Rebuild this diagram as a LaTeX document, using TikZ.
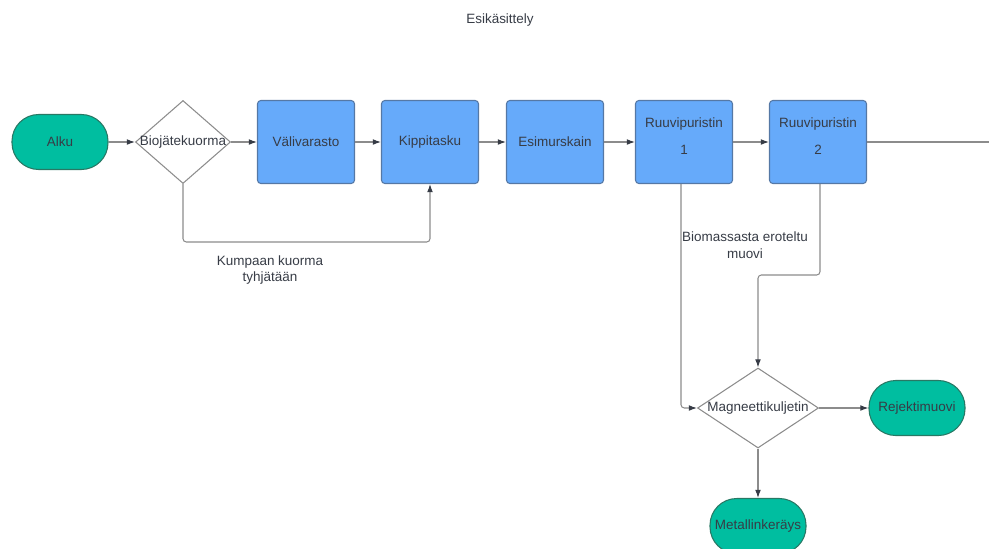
\documentclass[tikz,border=0pt]{standalone}
\usepackage{fontspec}
\setmainfont{Liberation Sans}
\usetikzlibrary{shapes.geometric,arrows.meta}
\definecolor{terminal}{RGB}{0,190,160}
\definecolor{terminalline}{RGB}{40,120,100}
\definecolor{process}{RGB}{102,170,250}
\definecolor{processline}{RGB}{85,120,165}
\definecolor{wire}{RGB}{140,140,140}
\definecolor{ink}{RGB}{55,60,70}
\tikzset{
	stage/.style={draw=processline, fill=process, rounded corners=0.1cm, minimum width=2.91cm, minimum height=2.49cm, align=center, text=ink},
	endpoint/.style={draw=terminalline, fill=terminal, rounded corners=0.8cm, minimum width=2.88cm, minimum height=1.65cm, text=ink},
	decision/.style={draw=wire, fill=white, diamond, inner sep=0pt, label={[text=ink]center:#1}},
	flow/.style={draw=wire, line width=0.9pt, rounded corners=0.1cm, -{Latex[length=7pt,width=5pt,color=ink]}},
	note/.style={align=center, text=ink}
}
\begin{document}
\begin{tikzpicture}[x=0.03cm, y=-0.03cm, font=\fontsize{11.5}{14}\selectfont, line width=0.9pt]
	\useasboundingbox (0,0) rectangle (989,548);
	\node[note] (title) at (500,20) {Esikäsittely};

	\node[endpoint] (alku) at (60,142) {Alku};
	\node[decision=Biojätekuorma, minimum width=2.85cm, minimum height=2.49cm] (bio) at (183,142) {};
	\node[stage] (vali) at (306,142) {Välivarasto};
	\node[stage] (kip) at (430,142) {Kippitasku};
	\node[stage] (murs) at (555,142) {Esimurskain};
	\node[stage] (rp1) at (684,142) {Ruuvipuristin\\[9pt]1\\[-4pt]};
	\node[stage] (rp2) at (818,142) {Ruuvipuristin\\[9pt]2\\[-4pt]};
	\node[decision=Magneettikuljetin, minimum width=3.63cm, minimum height=2.4cm] (mag) at (758,408) {};
	\node[endpoint] (rej) at (917,408) {Rejektimuovi};
	\node[endpoint] (met) at (758,526) {Metallinkeräys};

	\coordinate (out) at (989,142);
	\coordinate (under) at (0,242);
	\coordinate (jog) at (0,275);

	\draw[flow] (alku) -- (bio);
	\draw[flow] (bio) -- (vali);
	\draw[flow] (vali) -- (kip);
	\draw[flow] (kip) -- (murs);
	\draw[flow] (murs) -- (rp1);
	\draw[flow] (rp1) -- (rp2);
	\draw[draw=wire] (rp2) -- (out);
	\draw[flow] (bio.south) |- (under -| kip.south) -- (kip.south);
	\draw[flow] ([xshift=-0.09cm]rp1.south) |- (mag.west);
	\draw[flow] ([xshift=0.06cm]rp2.south) |- (jog -| mag.north) -- (mag.north);
	\draw[flow] (mag) -- (rej);
	\draw[flow] (mag) -- (met);

	\node[note] (kumpaan) at (270,270) {Kumpaan kuorma\\tyhjätään};
	\node[note] (muovi) at (745,245) {Biomassasta eroteltu\\muovi};
\end{tikzpicture}
\end{document}
